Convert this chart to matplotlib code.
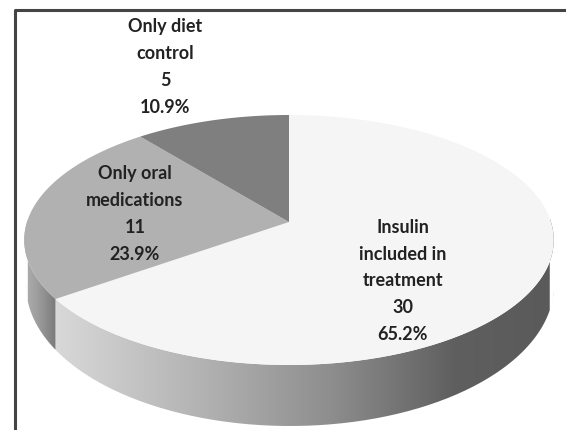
import numpy as np
import matplotlib
matplotlib.use("Agg")
import matplotlib.pyplot as plt
from matplotlib.patches import Polygon
from matplotlib.path import Path
from matplotlib.patches import PathPatch
from matplotlib.colors import LinearSegmentedColormap

W, H = 566, 430

categories = ["Insulin\nincluded in\ntreatment", "Only oral\nmedications", "Only diet\ncontrol"]
counts = [30, 11, 5]
percents = ["65.2%", "23.9%", "10.9%"]
face_colors = ["#f5f5f5", "#b1b1b1", "#7f7f7f"]
label_centres = [(403, 281), (135, 214), (165, 67)]

# Disc geometry in pixel coordinates
APEX = (289.0, 222.0)
TILT = 0.144
RX, RY = 262.0, 122.4
RIM_CX, RIM_CY, RIM_A, RIM_B = 290.0, 285.0, 264.0, 141.0


def disc_point(theta):
    """Perspective projection of a clockwise-from-north disc angle."""
    u, v = np.sin(theta), np.cos(theta)
    w = 1 + TILT * v
    return APEX[0] + RX * u / w, APEX[1] - RY * v / w


def rim_point(theta):
    """Lower edge of the disc side at the same horizontal position."""
    x, y = disc_point(theta)
    t = np.clip((x - RIM_CX) / RIM_A, -1, 1)
    return x, RIM_CY + RIM_B * np.sqrt(1 - t * t)


fig = plt.figure(figsize=(W / 100, H / 100), dpi=100, facecolor="white")
ax = fig.add_axes([0, 0, 1, 1])
ax.set_xlim(0, W)
ax.set_ylim(H, 0)
ax.axis("off")

# Outer frame, open on the right and at the bottom
ax.plot([15, 15, W], [H, 10, 10], color="#444444", lw=2.2, solid_capstyle="butt", zorder=1)

shares = np.array(counts, dtype=float) / sum(counts)
edges = np.concatenate([[0], np.cumsum(shares)]) * 2 * np.pi

# Side wall: shaded bands for the two slices that face the viewer, light to dark left to right
wall_stops = [
    (0, [(0.0, "#d8d8d8"), (0.28, "#b4b4b4"), (0.55, "#8e8e8e"), (0.8, "#5f5f5f"), (1.0, "#5a5a5a")]),
    (1, [(0.0, "#b0b0b0"), (0.45, "#9c9c9c"), (1.0, "#7a7a7a")]),
]
for idx, stops in wall_stops:
    start = edges[idx]
    stop = min(edges[idx + 1], 1.5 * np.pi + 0.02) if idx == 1 else edges[idx + 1]
    if idx == 0:
        start = np.pi / 2 - 0.03
    th = np.linspace(start, stop, 200)
    upper = np.array([disc_point(t) for t in th])
    lower = np.array([rim_point(t) for t in th])
    outline = np.vstack([upper, lower[::-1]])
    patch = PathPatch(Path(np.vstack([outline, outline[0]])), fc="none", ec="none", zorder=2)
    ax.add_patch(patch)
    x0, x1 = outline[:, 0].min(), outline[:, 0].max()
    cmap = LinearSegmentedColormap.from_list("wall", stops)
    grad = np.linspace(0, 1, 256)[None, :]
    img = ax.imshow(grad, extent=[x0, x1, 440, 200], cmap=cmap, aspect="auto", zorder=2, interpolation="bilinear")
    img.set_clip_path(patch)
ax.set_xlim(0, W)
ax.set_ylim(H, 0)

# Top face slices
for i, colour in enumerate(face_colors):
    th = np.linspace(edges[i], edges[i + 1], 200)
    rim = np.array([disc_point(t) for t in th])
    ax.add_patch(Polygon(np.vstack([APEX, rim]), closed=True, fc=colour, ec="none", zorder=3))

# Slice labels
for name, n, pct, (x, y) in zip(categories, counts, percents, label_centres):
    ax.text(x, y, f"{name}\n{n}\n{pct}", ha="center", va="center", family="Lato",
            fontweight="bold", fontsize=13, color="#222222", linespacing=1.71, zorder=5)

fig.savefig("out.png", dpi=100)
